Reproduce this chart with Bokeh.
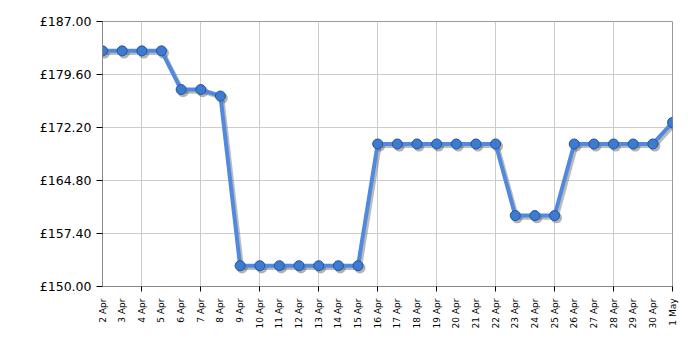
import math
from bokeh.plotting import figure
from bokeh.models import (ColumnDataSource, LinearAxis, FixedTicker, Range1d)
from bokeh.transform import dodge
from bokeh.embed import file_html
from bokeh.resources import INLINE

dates = ["2 Apr", "3 Apr", "4 Apr", "5 Apr", "6 Apr", "7 Apr", "8 Apr", "9 Apr",
         "10 Apr", "11 Apr", "12 Apr", "13 Apr", "14 Apr", "15 Apr", "16 Apr",
         "17 Apr", "18 Apr", "19 Apr", "20 Apr", "21 Apr", "22 Apr", "23 Apr",
         "24 Apr", "25 Apr", "26 Apr", "27 Apr", "28 Apr", "29 Apr", "30 Apr", "1 May"]
prices = [182.9, 182.9, 182.9, 182.9, 177.5, 177.5, 176.6,
          152.9, 152.9, 152.9, 152.9, 152.9, 152.9, 152.9,
          169.9, 169.9, 169.9, 169.9, 169.9, 169.9, 169.9,
          159.9, 159.9, 159.9,
          169.9, 169.9, 169.9, 169.9, 169.9, 172.9]
y_ticks = [150.0, 157.4, 164.8, 172.2, 179.6, 187.0]
grid_every = 3
grid_start = 2

idx = list(range(len(dates)))
src = ColumnDataSource(dict(x=idx, y=prices))

FONT = "DejaVu Sans"

p = figure(width=700, height=350, output_backend="svg", toolbar_location=None,
           x_range=Range1d(0, len(dates) - 1), y_range=Range1d(y_ticks[0], y_ticks[-1]),
           x_axis_location=None, y_axis_location=None,
           min_border_left=102, min_border_right=28, min_border_top=21, min_border_bottom=64)
p.outline_line_color = "#999999"
p.background_fill_color = "white"
p.border_fill_color = "white"

# y axis
yax = LinearAxis(ticker=FixedTicker(ticks=y_ticks))
yax.major_label_overrides = {t: "£%.2f" % t for t in y_ticks}
yax.major_label_text_font = FONT
yax.major_label_text_font_size = "12.5px"
yax.major_label_text_color = "black"
yax.major_tick_in = 0
yax.major_tick_out = 6
yax.minor_tick_line_color = None
yax.major_tick_line_color = "black"
yax.axis_line_color = "#888888"
yax.major_label_standoff = 5
p.add_layout(yax, "left")

grid_ticks = list(range(grid_start, len(dates), grid_every))

# tick-mark axis (every 3 days), no labels
tax = LinearAxis(ticker=FixedTicker(ticks=grid_ticks))
tax.major_label_overrides = {t: "" for t in grid_ticks}
tax.major_label_text_font_size = "1px"
tax.major_label_standoff = 0
tax.major_tick_in = 0
tax.major_tick_out = 5
tax.major_tick_line_color = "black"
tax.minor_tick_line_color = None
tax.axis_line_color = "#888888"
p.add_layout(tax, "below")

# label axis (every day)
lax = LinearAxis(ticker=FixedTicker(ticks=idx))
lax.major_label_overrides = {i: d for i, d in enumerate(dates)}
lax.major_label_orientation = math.pi / 2
lax.major_label_text_font = FONT
lax.major_label_text_font_size = "9px"
lax.major_label_text_color = "black"
lax.major_tick_line_color = None
lax.minor_tick_line_color = None
lax.axis_line_color = None
lax.major_label_standoff = 1
p.add_layout(lax, "below")

p.xgrid.ticker = FixedTicker(ticks=grid_ticks)
p.ygrid.ticker = FixedTicker(ticks=y_ticks)
p.xgrid.grid_line_color = "#cccccc"
p.ygrid.grid_line_color = "#cccccc"

# shadow
p.line(x=dodge("x", 0.1), y=dodge("y", -0.3), source=src, line_width=4,
       line_color="#777777", line_alpha=0.5)
p.scatter(x=dodge("x", 0.1), y=dodge("y", -0.3), source=src, size=11,
          fill_color="#555555", fill_alpha=0.45, line_color=None)
# main
p.line(x="x", y="y", source=src, line_width=4, line_color="#5089dd")
p.scatter(x="x", y="y", source=src, size=10, fill_color="#3d7bd0",
          line_color="#24559c", line_width=1)

open("out.html", "w").write(file_html(p, INLINE))
